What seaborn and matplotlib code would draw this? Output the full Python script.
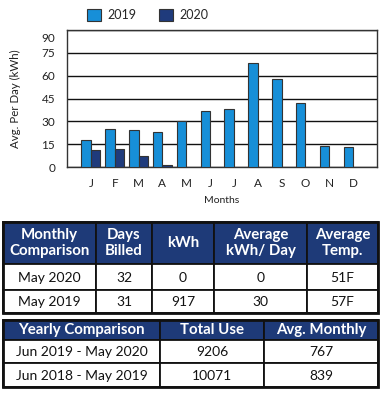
import matplotlib
matplotlib.use("Agg")
import matplotlib.pyplot as plt
import matplotlib.transforms as mtrans
import seaborn as sns
import pandas as pd
from matplotlib.patches import Rectangle

months = ["J", "F", "M", "A", "M", "J", "J", "A", "S", "O", "N", "D"]
usage_2019 = [18, 25, 24, 23, 30, 37, 38, 68, 58, 42, 14, 13]
usage_2020 = [11, 12, 7, 1, None, None, None, None, None, None, None, None]
y_ticks = [0, 15, 30, 45, 60, 75, 90]

monthly_header = ["Monthly\nComparison", "Days\nBilled", "kWh", "Average\nkWh/ Day", "Average\nTemp."]
monthly_rows = [["May 2020", "32", "0", "0", "51F"],
                ["May 2019", "31", "917", "30", "57F"]]
yearly_header = ["Yearly Comparison", "Total Use", "Avg. Monthly"]
yearly_rows = [["Jun 2019 - May 2020", "9206", "767"],
               ["Jun 2018 - May 2019", "10071", "839"]]

C2019 = "#178fd8"
C2020 = "#1f3b7c"
NAVY = "#1e3a78"

sns.set_style("white")
plt.rcParams["font.family"] = ["Lato", "DejaVu Sans"]

idx = list(range(12))
df = pd.DataFrame({
    "pos": [str(i) for i in idx] * 2,
    "val": usage_2019 + usage_2020,
    "Year": ["2019"] * 12 + ["2020"] * 12,
})

W, H = 384, 399
fig = plt.figure(figsize=(W / 100, H / 100), dpi=100)
ax = fig.add_axes([67 / W, 1 - 167 / H, 310 / W, 137 / H])

sns.barplot(data=df, x="pos", y="val", hue="Year", order=[str(i) for i in idx],
            palette={"2019": C2019, "2020": C2020}, edgecolor="#333333",
            linewidth=0.8, saturation=1, width=0.8, ax=ax, zorder=3)
ax.set_xlim(-1, 12)
ax.set_ylim(0, 90)
ax.set_yticks(y_ticks)
ax.set_yticklabels([str(t) for t in y_ticks], fontsize=8.5, color="#222222")
ax.set_xticks(idx)
ax.set_xticklabels(months, fontsize=8.5, color="#222222")
ax.tick_params(axis="x", length=0, pad=8)
ax.tick_params(axis="y", length=0, pad=8.5)
top_lab = ax.get_yticklabels()[-1]
top_lab.set_transform(top_lab.get_transform() +
                      mtrans.ScaledTranslation(0, -0.07, fig.dpi_scale_trans))
ax.yaxis.grid(True, color="#111111", linewidth=1, zorder=0)
ax.set_axisbelow(True)
for s in ax.spines.values():
    s.set_color("#333333")
    s.set_linewidth(1)
ax.set_xlabel("Months", fontsize=7.5, color="#222222", labelpad=5)
ax.set_ylabel("Avg. Per Day (kWh)", fontsize=8.3, color="#222222", labelpad=15)

handles, labels = ax.get_legend_handles_labels()
ax.legend(handles, labels, loc="center left", bbox_to_anchor=(87 / W, 1 - 15 / H),
          bbox_transform=fig.transFigure, ncol=2, frameon=False,
          borderpad=0, borderaxespad=0,
          handlelength=1.12, handleheight=1.12, columnspacing=1.8,
          handletextpad=0.5, fontsize=9)

# Tables drawn in pixel space
tax = fig.add_axes([0, 0, 1, 1])
tax.set_xlim(0, W)
tax.set_ylim(H, 0)
tax.axis("off")


def draw_table(xs, ys, header, rows, header_size, body_size):
    for r in range(len(ys) - 1):
        for c in range(len(xs) - 1):
            x0, x1 = xs[c], xs[c + 1]
            y0, y1 = ys[r], ys[r + 1]
            fc = NAVY if r == 0 else "white"
            tax.add_patch(Rectangle((x0, y0), x1 - x0, y1 - y0, facecolor=fc,
                                    edgecolor="#111111", linewidth=1.3))
            if r == 0:
                tax.text((x0 + x1) / 2, (y0 + y1) / 2, header[c], ha="center",
                         va="center", color="white", fontsize=header_size,
                         fontweight="bold", linespacing=1.15)
            else:
                tax.text((x0 + x1) / 2, (y0 + y1) / 2 + 1, rows[r - 1][c],
                         ha="center", va="center", color="#111111",
                         fontsize=body_size)
    tax.add_patch(Rectangle((xs[0], ys[0]), xs[-1] - xs[0], ys[-1] - ys[0],
                            facecolor="none", edgecolor="#111111", linewidth=2))


draw_table([3, 96, 152, 214, 307, 378], [222, 264, 290, 313],
           monthly_header, monthly_rows, 10.8, 10)
draw_table([3, 160, 264, 378], [320, 340, 363, 387],
           yearly_header, yearly_rows, 10.8, 10)

fig.savefig("out.png", dpi=100)
